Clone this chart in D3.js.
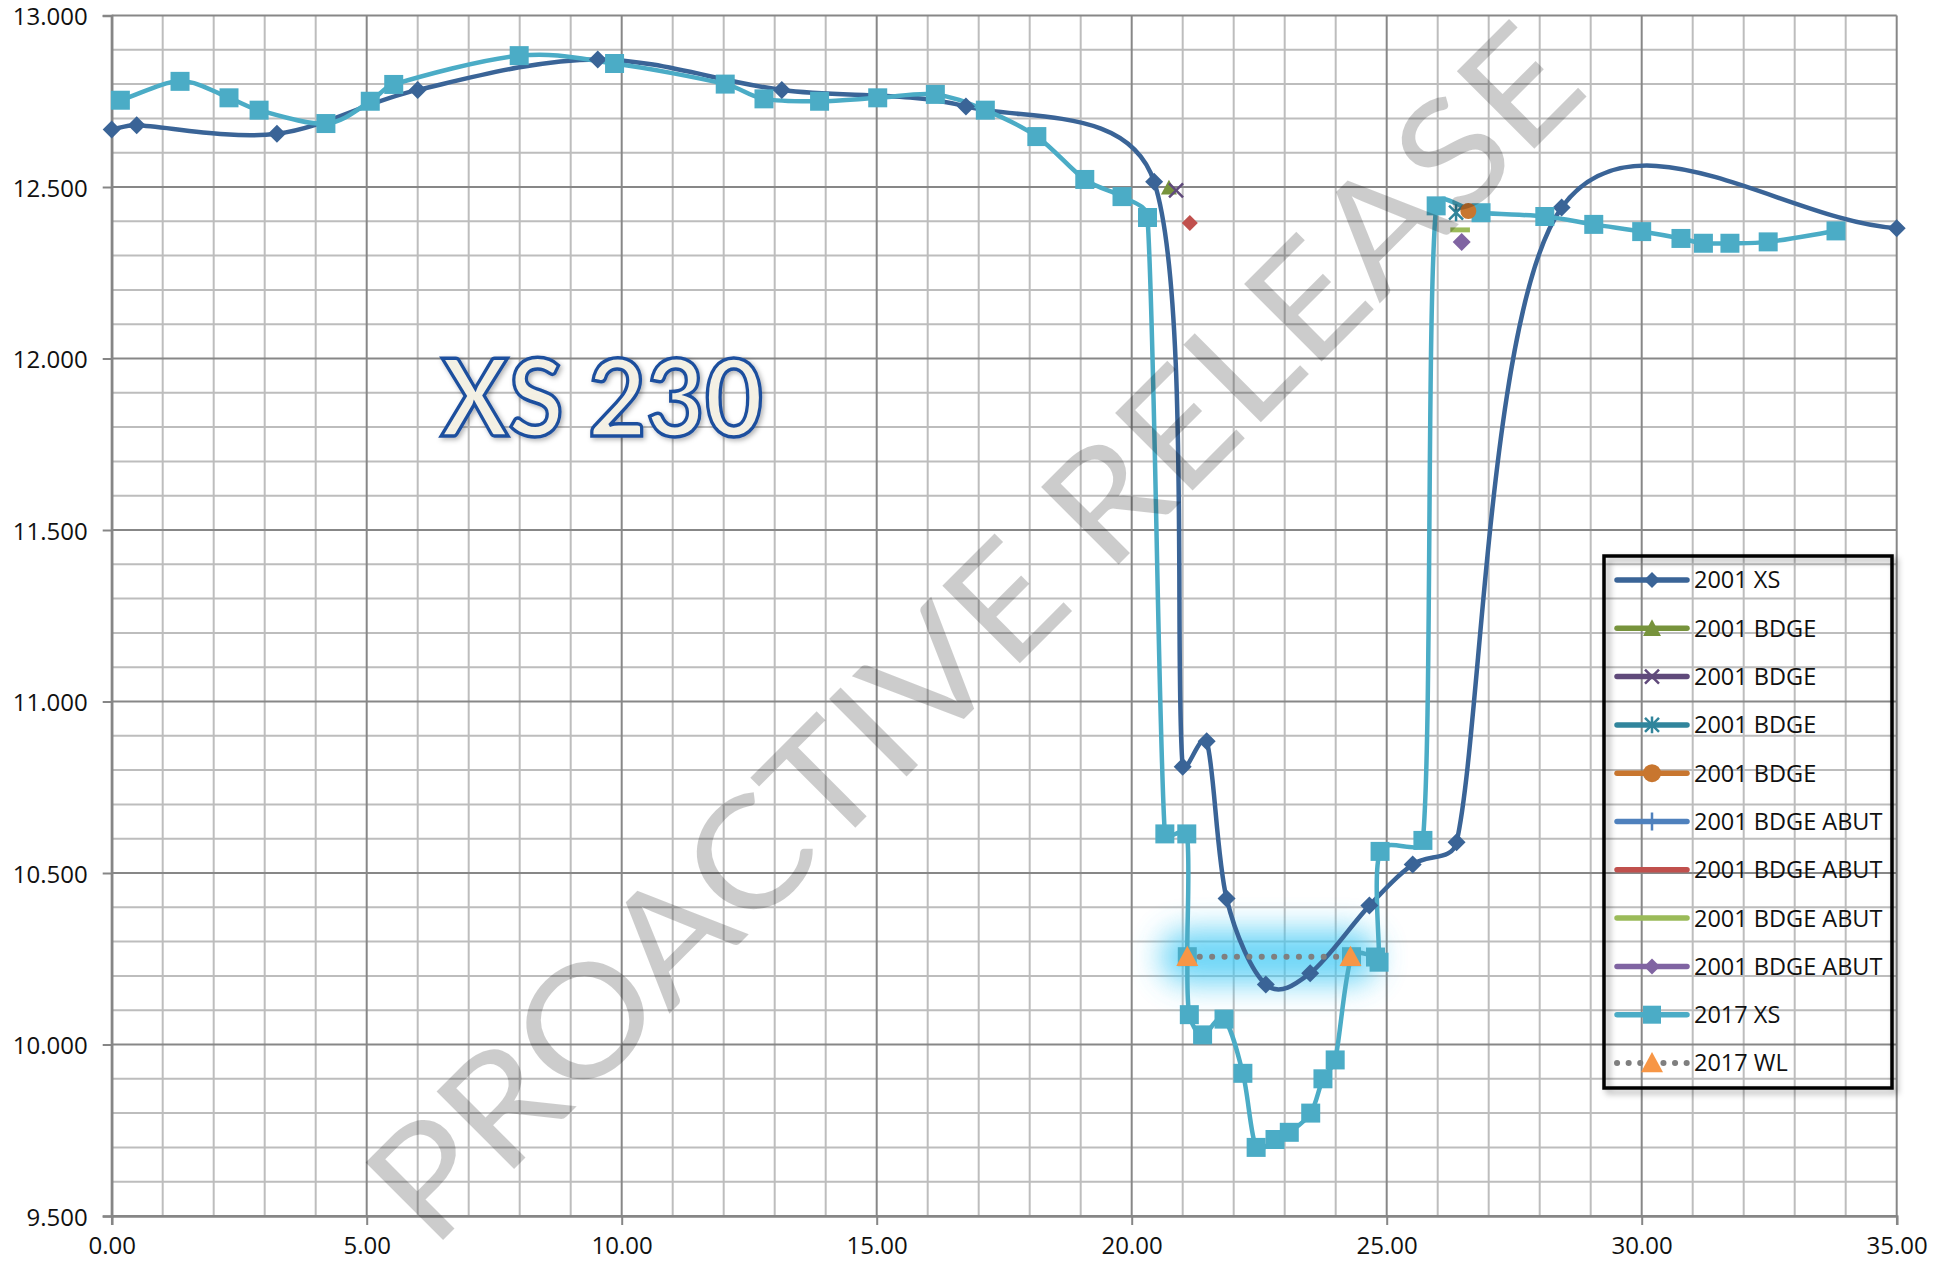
<!DOCTYPE html>
<html><head><meta charset="utf-8">
<script src="https://cdn.jsdelivr.net/npm/d3@7"></script>
<style>html,body{margin:0;padding:0;background:#fff;} svg{display:block;}</style>
</head><body><svg id="chart" width="1945" height="1267"></svg>
<script>
// ---------------- data ----------------
const xs2001X = [0, 0.49, 3.24, 6.0, 9.53, 13.14, 16.75, 20.44, 21.0, 21.47, 21.86, 22.63, 23.5, 24.66, 25.51, 26.37, 28.43, 35.0];
const xs2001Y = [12.668, 12.680, 12.655, 12.783, 12.872, 12.783, 12.735, 12.515, 10.81, 10.884, 10.426, 10.175, 10.208, 10.405, 10.525, 10.59, 12.44, 12.38];

const xs2017X = [0.17, 1.34, 2.30, 2.89, 4.20, 5.07, 5.53, 7.99, 9.86, 12.03, 12.79, 13.88, 15.02, 16.15, 17.13, 18.14, 19.08, 19.81, 20.31, 20.65, 21.08, 21.09, 21.13, 21.39, 21.81, 22.18, 22.44, 22.81, 23.09, 23.51, 23.75, 23.99, 24.31, 24.78, 24.85, 24.87, 25.71, 25.97, 26.85, 28.10, 29.06, 30.0, 30.77, 31.21, 31.73, 32.48, 33.81];
const xs2017Y = [12.753, 12.808, 12.760, 12.724, 12.685, 12.750, 12.799, 12.883, 12.860, 12.800, 12.757, 12.750, 12.760, 12.770, 12.724, 12.647, 12.522, 12.472, 12.411, 10.614, 10.614, 10.256, 10.087, 10.028, 10.074, 9.916, 9.700, 9.723, 9.744, 9.800, 9.900, 9.955, 10.256, 10.255, 10.240, 10.563, 10.595, 12.445, 12.425, 12.414, 12.391, 12.370, 12.350, 12.336, 12.336, 12.340, 12.372];

const wl2017X = [21.09, 24.29];
const wl2017Y = [10.256, 10.256];

const bdgeGreenX = [20.73],  bdgeGreenY = [12.498];
const bdgePurpleX = [20.87], bdgePurpleY = [12.490];
const bdgeTealX = [26.36],   bdgeTealY = [12.425];
const bdgeOrangeX = [26.60], bdgeOrangeY = [12.430];
const abutBlueX = [],        abutBlueY = [];
const abutRedX = [21.14],    abutRedY = [12.395];
const abutLimeX = [26.44],   abutLimeY = [12.375];
const abutVioletX = [26.47], abutVioletY = [12.340];

const xTicks = [0, 5, 10, 15, 20, 25, 30, 35];
const yTicks = [9.5, 10, 10.5, 11, 11.5, 12, 12.5, 13];
const legendLabels = ["2001 XS", "2001 BDGE", "2001 BDGE", "2001 BDGE", "2001 BDGE", "2001 BDGE ABUT", "2001 BDGE ABUT", "2001 BDGE ABUT", "2001 BDGE ABUT", "2017 XS", "2017 WL"];
const titleText = "XS 230";
const watermarkText = "PROACTIVE RELEASE";

// ---------------- setup ----------------
const svg = d3.select("#chart");
const L = 111.7, R = 1896.7, T = 15.5, B = 1216;
const x = d3.scaleLinear().domain([0, 35]).range([L, R]);
const y = d3.scaleLinear().domain([9.5, 13]).range([B, T]);
const FONT = "'Open Sans', 'DejaVu Sans', sans-serif";

const defs = svg.append("defs");
const glow = defs.append("filter").attr("id", "glow").attr("filterUnits", "userSpaceOnUse")
  .attr("x", 0).attr("y", 0).attr("width", 1945).attr("height", 1267);
glow.append("feGaussianBlur").attr("stdDeviation", 15);
const shadow = defs.append("filter").attr("id", "shadow").attr("x", "-10%").attr("y", "-10%").attr("width", "130%").attr("height", "130%");
shadow.append("feDropShadow").attr("dx", 4).attr("dy", 4).attr("stdDeviation", 3).attr("flood-color", "#000").attr("flood-opacity", 0.35);
const tshadow = defs.append("filter").attr("id", "tshadow").attr("x", "-10%").attr("y", "-20%").attr("width", "130%").attr("height", "150%");
tshadow.append("feDropShadow").attr("dx", 2).attr("dy", 2).attr("stdDeviation", 2.5).attr("flood-color", "#000").attr("flood-opacity", 0.3);

// ---------------- grid ----------------
const grid = svg.append("g");
const minorX = d3.range(0, 36, 1).filter(v => v % 5 !== 0);
const minorY = d3.range(95, 131, 1).map(v => v / 10).filter(v => Math.round(v * 10) % 5 !== 0);
grid.selectAll(".mx").data(minorX).join("line")
  .attr("x1", d => x(d)).attr("x2", d => x(d)).attr("y1", T).attr("y2", B)
  .attr("stroke", "#bdbdbd").attr("stroke-width", 2);
grid.selectAll(".my").data(minorY).join("line")
  .attr("y1", d => y(d)).attr("y2", d => y(d)).attr("x1", L).attr("x2", R)
  .attr("stroke", "#bdbdbd").attr("stroke-width", 2);
grid.selectAll(".Mx").data(xTicks).join("line")
  .attr("x1", d => x(d)).attr("x2", d => x(d)).attr("y1", T).attr("y2", B)
  .attr("stroke", "#878787").attr("stroke-width", 2);
grid.selectAll(".My").data(yTicks).join("line")
  .attr("y1", d => y(d)).attr("y2", d => y(d)).attr("x1", L).attr("x2", R)
  .attr("stroke", "#878787").attr("stroke-width", 2);

// ---------------- axes ----------------
const xAxis = svg.append("g").attr("transform", `translate(0,${B})`)
  .call(d3.axisBottom(x).tickValues(xTicks).tickFormat(d3.format(".2f")).tickSize(9).tickPadding(16));
const yAxis = svg.append("g").attr("transform", `translate(${L},0)`)
  .call(d3.axisLeft(y).tickValues(yTicks).tickFormat(d3.format(".3f")).tickSize(9).tickPadding(15));
[xAxis, yAxis].forEach(g => {
  g.select(".domain").attr("stroke", "#868686").attr("stroke-width", 2.5);
  g.selectAll(".tick line").attr("stroke", "#868686").attr("stroke-width", 2);
  g.selectAll(".tick text").attr("font-family", FONT).attr("font-size", 24).attr("fill", "#111");
});
xAxis.selectAll(".tick text").attr("dy", "0.55em");
yAxis.selectAll(".tick text").attr("dy", "0.38em");

// ---------------- Excel-like smoothed curve ----------------
const CAP = 0.4;
function excelCurve(context) {
  let pts = [];
  return {
    areaStart() {}, areaEnd() {},
    lineStart() { pts = []; },
    point(px, py) { pts.push([+px, +py]); },
    lineEnd() {
      const n = pts.length;
      if (!n) return;
      context.moveTo(pts[0][0], pts[0][1]);
      if (n === 1) return;
      const Tg = pts.map((p, i) => {
        if (i === 0) return [(pts[1][0] - p[0]) / 3, (pts[1][1] - p[1]) / 3];
        if (i === n - 1) return [(p[0] - pts[i - 1][0]) / 3, (p[1] - pts[i - 1][1]) / 3];
        return [(pts[i + 1][0] - pts[i - 1][0]) / 6, (pts[i + 1][1] - pts[i - 1][1]) / 6];
      });
      for (let i = 0; i < n - 1; i++) {
        const a = pts[i], b = pts[i + 1];
        const lim = CAP * Math.hypot(b[0] - a[0], b[1] - a[1]);
        const sc = t => { const l = Math.hypot(t[0], t[1]); return l > lim && l > 0 ? lim / l : 1; };
        const s0 = sc(Tg[i]), s1 = sc(Tg[i + 1]);
        context.bezierCurveTo(a[0] + Tg[i][0] * s0, a[1] + Tg[i][1] * s0,
                              b[0] - Tg[i + 1][0] * s1, b[1] - Tg[i + 1][1] * s1, b[0], b[1]);
      }
    }
  };
}
const zip = (X, Y) => X.map((v, i) => [v, Y[i]]);
const smooth = d3.line().x(d => x(d[0])).y(d => y(d[1])).curve(excelCurve);
const straight = d3.line().x(d => x(d[0])).y(d => y(d[1]));

// marker shapes
const shapes = {
  diamond: r => `M0,${-r}L${r},0L0,${r}L${-r},0Z`,
  square: r => `M${-r},${-r}H${r}V${r}H${-r}Z`,
  triangle: r => `M0,${-r}L${r},${r * 0.85}L${-r},${r * 0.85}Z`,
  circle: r => `M${r},0A${r},${r} 0 1,1 ${-r},0A${r},${r} 0 1,1 ${r},0Z`,
  cross: r => `M${-r},${-r}L${r},${r}M${-r},${r}L${r},${-r}`,
  star: r => `M${-r},${-r}L${r},${r}M${-r},${r}L${r},${-r}M0,${-r * 1.2}V${r * 1.2}`,
  plus: r => `M0,${-r}V${r}M${-r},0H${r}`,
  dash: r => `M${-r * 1.4},${-r * 0.35}H${r * 1.4}V${r * 0.35}H${-r * 1.4}Z`
};
function drawMarkers(g, pts, shape, r, color, stroked) {
  g.selectAll(null).data(pts).join("path")
    .attr("transform", d => `translate(${x(d[0])},${y(d[1])})`)
    .attr("d", shapes[shape](r))
    .attr("fill", stroked ? "none" : color)
    .attr("stroke", stroked ? color : "none")
    .attr("stroke-width", stroked ? 2.5 : 0);
}

const plot = svg.append("g");
const C2001 = "#3a6497", C2017 = "#4bacc6";

// glow of 2017 WL (line + markers)
const glowG = plot.append("g").attr("filter", "url(#glow)").attr("opacity", 0.75);
glowG.append("path").datum(zip(wl2017X, wl2017Y))
  .attr("d", straight).attr("stroke", "#3cc8f4")
  .attr("stroke-width", 54).attr("stroke-linecap", "round").attr("fill", "none");

// lines
plot.append("path").datum(zip(xs2001X, xs2001Y)).attr("d", smooth)
  .attr("fill", "none").attr("stroke", C2001).attr("stroke-width", 4.5);
plot.append("path").datum(zip(xs2017X, xs2017Y)).attr("d", smooth)
  .attr("fill", "none").attr("stroke", C2017).attr("stroke-width", 4.5);

// markers
drawMarkers(plot, zip(xs2001X, xs2001Y), "diamond", 9, C2001);
drawMarkers(plot, zip(xs2017X, xs2017Y), "square", 9.5, C2017);
drawMarkers(plot, zip(bdgeGreenX, bdgeGreenY), "triangle", 8, "#77933c");
drawMarkers(plot, zip(bdgePurpleX, bdgePurpleY), "cross", 7, "#604a7b", true);
drawMarkers(plot, zip(bdgeTealX, bdgeTealY), "star", 7, "#31859c", true);
drawMarkers(plot, zip(bdgeOrangeX, bdgeOrangeY), "circle", 8, "#c8762f");
drawMarkers(plot, zip(abutBlueX, abutBlueY), "plus", 8, "#4f81bd", true);
drawMarkers(plot, zip(abutRedX, abutRedY), "diamond", 8, "#c0504d");
drawMarkers(plot, zip(abutLimeX, abutLimeY), "dash", 7, "#9bbb59");
drawMarkers(plot, zip(abutVioletX, abutVioletY), "diamond", 9, "#8064a2");

// 2017 WL
plot.append("path").datum(zip(wl2017X, wl2017Y)).attr("d", straight)
  .attr("fill", "none").attr("stroke", "#7f7f7f").attr("stroke-width", 6)
  .attr("stroke-linecap", "round").attr("stroke-dasharray", "0.1 12.3");
drawMarkers(plot, zip(wl2017X, wl2017Y), "triangle", 11, "#f79646");

// ---------------- title ----------------
svg.append("text").attr("x", 441).attr("y", 436)
  .attr("font-family", "Lato, 'Open Sans', sans-serif").attr("font-weight", 700)
  .attr("font-size", 108).attr("textLength", 322).attr("lengthAdjust", "spacingAndGlyphs")
  .attr("fill", "#f3f0e4").attr("stroke", "#1f4f9e").attr("stroke-width", 3.5)
  .attr("filter", "url(#tshadow)")
  .text(titleText);

// ---------------- legend ----------------
const legendStyles = [
  {c: C2001, m: "diamond", r: 8},
  {c: "#77933c", m: "triangle", r: 9},
  {c: "#604a7b", m: "cross", r: 7, s: true},
  {c: "#31859c", m: "star", r: 7, s: true},
  {c: "#c8762f", m: "circle", r: 9},
  {c: "#4f81bd", m: "plus", r: 9, s: true},
  {c: "#c0504d", m: null},
  {c: "#9bbb59", m: null},
  {c: "#8064a2", m: "diamond", r: 8},
  {c: C2017, m: "square", r: 9},
  {c: "#7f7f7f", m: "triangle", r: 11, mc: "#f79646", dotted: true}
];
const legendItems = legendLabels.map((label, i) => Object.assign({label, i}, legendStyles[i]));
const lg = svg.append("g");
lg.append("rect").attr("x", 1604).attr("y", 556).attr("width", 288).attr("height", 532)
  .attr("fill", "none").attr("stroke", "#000").attr("stroke-width", 3.5).attr("filter", "url(#shadow)");
const rows = lg.selectAll("g.row").data(legendItems).join("g")
  .attr("transform", d => `translate(0,${580 + d.i * 48.3})`);
rows.append("line").attr("x1", 1617).attr("x2", 1687).attr("y1", 0).attr("y2", 0)
  .attr("stroke", d => d.c)
  .attr("stroke-width", d => d.dotted ? 6 : 5.5)
  .attr("stroke-linecap", "round")
  .attr("stroke-dasharray", d => d.dotted ? "0.1 11.5" : null);
rows.filter(d => d.m).append("path")
  .attr("transform", "translate(1652,0)")
  .attr("d", d => shapes[d.m](d.r))
  .attr("fill", d => d.s ? "none" : (d.mc || d.c))
  .attr("stroke", d => d.s ? d.c : "none")
  .attr("stroke-width", 2.5);
rows.append("text").attr("x", 1694).attr("y", 0).attr("dy", "0.36em")
  .attr("font-family", FONT).attr("font-size", 23.5).attr("fill", "#111")
  .text(d => d.label);

// ---------------- watermark ----------------
svg.append("text").attr("transform", "translate(1012,671) rotate(-45)")
  .attr("text-anchor", "middle").attr("font-family", "Lato, 'Open Sans', sans-serif")
  .attr("font-size", 153).attr("textLength", 1640).attr("lengthAdjust", "spacingAndGlyphs")
  .attr("fill", "rgba(0,0,0,0.2)")
  .text(watermarkText);
</script>
</body></html>
